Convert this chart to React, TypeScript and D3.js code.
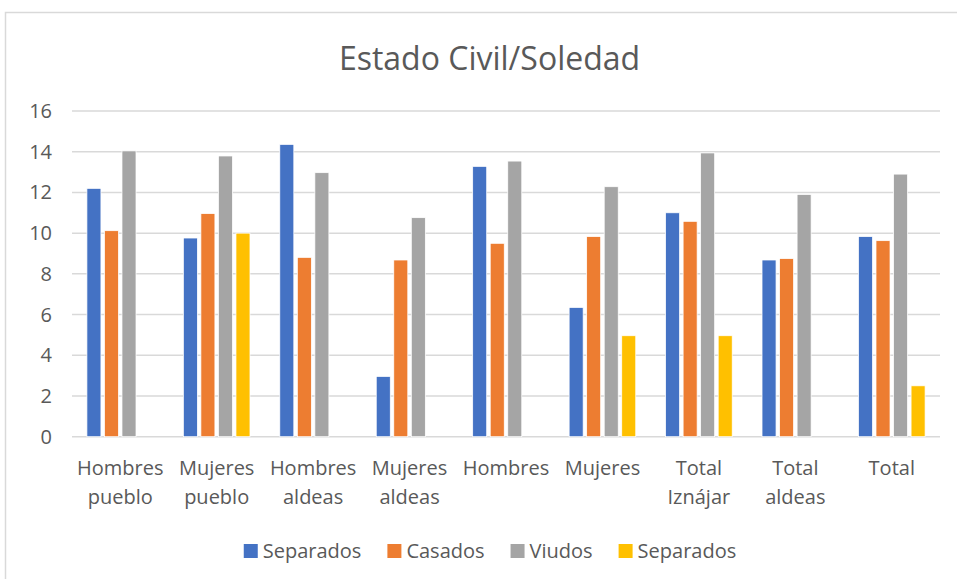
import React, { useEffect, useRef } from "react";
import * as d3 from "d3";

const categories = [
  ["Hombres", "pueblo"],
  ["Mujeres", "pueblo"],
  ["Hombres", "aldeas"],
  ["Mujeres", "aldeas"],
  ["Hombres"],
  ["Mujeres"],
  ["Total", "Iznájar"],
  ["Total", "aldeas"],
  ["Total"],
];

const seriesNames = ["Separados", "Casados", "Viudos", "Separados"];
const seriesColors = ["#4472C4", "#ED7D31", "#A5A5A5", "#FFC000"];

const separados = [12.2, 9.76, 14.36, 2.96, 13.28, 6.35, 11.0, 8.68, 9.83];
const casados = [10.12, 10.96, 8.81, 8.68, 9.5, 9.83, 10.58, 8.75, 9.63];
const viudos = [14.04, 13.79, 12.97, 10.76, 13.54, 12.28, 13.94, 11.9, 12.9];
const separados2 = [null, 10.0, null, null, null, 4.96, 4.96, null, 2.5];

const yTicks = [0, 2, 4, 6, 8, 10, 12, 14, 16];

const W = 957;
const H = 579;

const App = () => {
  const svgRef = useRef<SVGSVGElement>(null);

  useEffect(() => {
    const svg = d3.select(svgRef.current);
    svg.selectAll("*").remove();

    const font = "'Open Sans', sans-serif";
    const textColor = "#595959";
    const plot = { left: 72, right: 940, top: 111, bottom: 436.7 };
    const allSeries = [separados, casados, viudos, separados2];

    // chart frame
    svg
      .append("rect")
      .attr("x", 5.5)
      .attr("y", 12.5)
      .attr("width", 1000)
      .attr("height", 1000)
      .attr("fill", "#fff")
      .attr("stroke", "#D9D9D9")
      .attr("stroke-width", 1.5);

    // title
    svg
      .append("text")
      .attr("x", 489.5)
      .attr("y", 70)
      .attr("text-anchor", "middle")
      .attr("font-family", font)
      .attr("font-size", 32)
      .attr("fill", textColor)
      .text("Estado Civil/Soledad");

    const x0 = d3
      .scaleBand()
      .domain(categories.map((_, i) => String(i)))
      .range([plot.left, plot.right]);

    const x1 = d3
      .scaleBand()
      .domain(seriesNames.map((_, i) => String(i)))
      .range([0, x0.bandwidth()])
      .paddingInner(0.2)
      .paddingOuter(0.85);

    const y = d3.scaleLinear().domain([0, 16]).range([plot.bottom, plot.top]);

    // gridlines
    svg
      .append("g")
      .selectAll("line")
      .data(yTicks)
      .enter()
      .append("line")
      .attr("x1", plot.left)
      .attr("x2", plot.right)
      .attr("y1", (d) => y(d))
      .attr("y2", (d) => y(d))
      .attr("stroke", "#D9D9D9")
      .attr("stroke-width", 1.5);

    // y labels
    svg
      .append("g")
      .selectAll("text")
      .data(yTicks)
      .enter()
      .append("text")
      .attr("x", 52)
      .attr("y", (d) => y(d))
      .attr("dy", "0.35em")
      .attr("text-anchor", "end")
      .attr("font-family", font)
      .attr("font-size", 20)
      .attr("fill", textColor)
      .text((d) => d);

    // bars
    allSeries.forEach((vals, s) => {
      svg
        .append("g")
        .selectAll("rect")
        .data(vals.map((v, i) => ({ v, i })).filter((d) => d.v != null))
        .enter()
        .append("rect")
        .attr("x", (d) => x0(String(d.i)) + x1(String(s)))
        .attr("y", (d) => y(d.v))
        .attr("width", x1.bandwidth())
        .attr("height", (d) => y(0) - y(d.v))
        .attr("fill", seriesColors[s])
        .attr("stroke", "#fff")
        .attr("stroke-width", 0.75);
    });

    // category labels
    const cat = svg.append("g");
    categories.forEach((lines, i) => {
      const cx = x0(String(i)) + x0.bandwidth() / 2;
      lines.forEach((ln, j) => {
        cat
          .append("text")
          .attr("x", cx)
          .attr("y", 475 + j * 29)
          .attr("text-anchor", "middle")
          .attr("font-family", font)
          .attr("font-size", 20)
          .attr("fill", textColor)
          .text(ln);
      });
    });

    // legend
    const legend = svg.append("g");
    const items = seriesNames.map((name, i) => {
      const t = legend
        .append("text")
        .attr("font-family", font)
        .attr("font-size", 20)
        .attr("fill", textColor)
        .attr("y", 551)
        .attr("dy", "0.35em")
        .text(name);
      return { t, w: (t.node() as SVGTextElement).getComputedTextLength(), i };
    });
    const sq = 14;
    const gapText = 5;
    const gapItem = 26;
    const total =
      items.reduce((acc, it) => acc + sq + gapText + it.w, 0) +
      gapItem * (items.length - 1);
    let lx = 490 - total / 2;
    items.forEach((it) => {
      legend
        .append("rect")
        .attr("x", lx)
        .attr("y", 551 - sq / 2)
        .attr("width", sq)
        .attr("height", sq)
        .attr("fill", seriesColors[it.i]);
      it.t.attr("x", lx + sq + gapText);
      lx += sq + gapText + it.w + gapItem;
    });
  }, []);

  return (
    <svg
      ref={svgRef}
      width={W}
      height={H}
      style={{ position: "absolute", left: 0, top: 0, display: "block", background: "#fff" }}
    ></svg>
  );
};

export default App;
